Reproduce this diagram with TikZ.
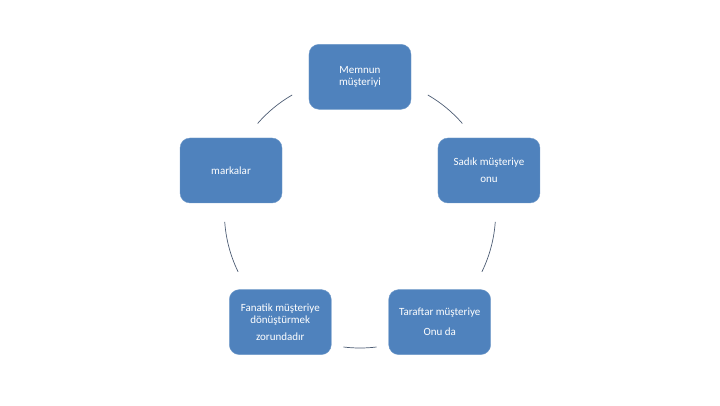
\documentclass[tikz,border=0pt]{standalone}
\usepackage{fontspec}
\setmainfont{Carlito}
\usepackage{tikz}
\definecolor{boxblue}{rgb}{0.31,0.51,0.74}
\definecolor{arcgray}{rgb}{0.30,0.36,0.45}

\begin{document}
\begin{tikzpicture}[
  x=1pt, y=1pt,
  stage/.style={fill=boxblue, draw=boxblue!80!white, rounded corners=10pt,
    minimum width=102pt, minimum height=65pt, inner sep=2pt,
    text=white, align=center, font={\fontsize{11}{12}\selectfont}},
  ring/.style={arcgray, line width=.7pt},
  ]
  % page frame
  \useasboundingbox (-360,-192.6) rectangle (360,212.4);
  % Stages round the circle
  \node[stage] (memnun)   at (90:135.6)  {Memnun\\müşteriyi};
  \node[stage] (sadik)    at (18:135.6)  {Sadık müşteriye\\[5pt]onu};
  \node[stage] (taraftar) at (-54:135.6) {Taraftar müşteriye\\[8pt]Onu da};
  \node[stage] (fanatik)  at (234:135.6) {Fanatik müşteriye\\dönüştürmek\\[5pt]zorundadır};
  \node[stage] (markalar) at (162:135.6) {markalar};
  % Ring pieces between the stages
  \foreach \a/\b in {41/60, 120/139, 184/206, 263/277, 334/356} {
    \draw[ring] (\a:135.6) arc(\a:\b:135.6);
  }
\end{tikzpicture}
\end{document}
